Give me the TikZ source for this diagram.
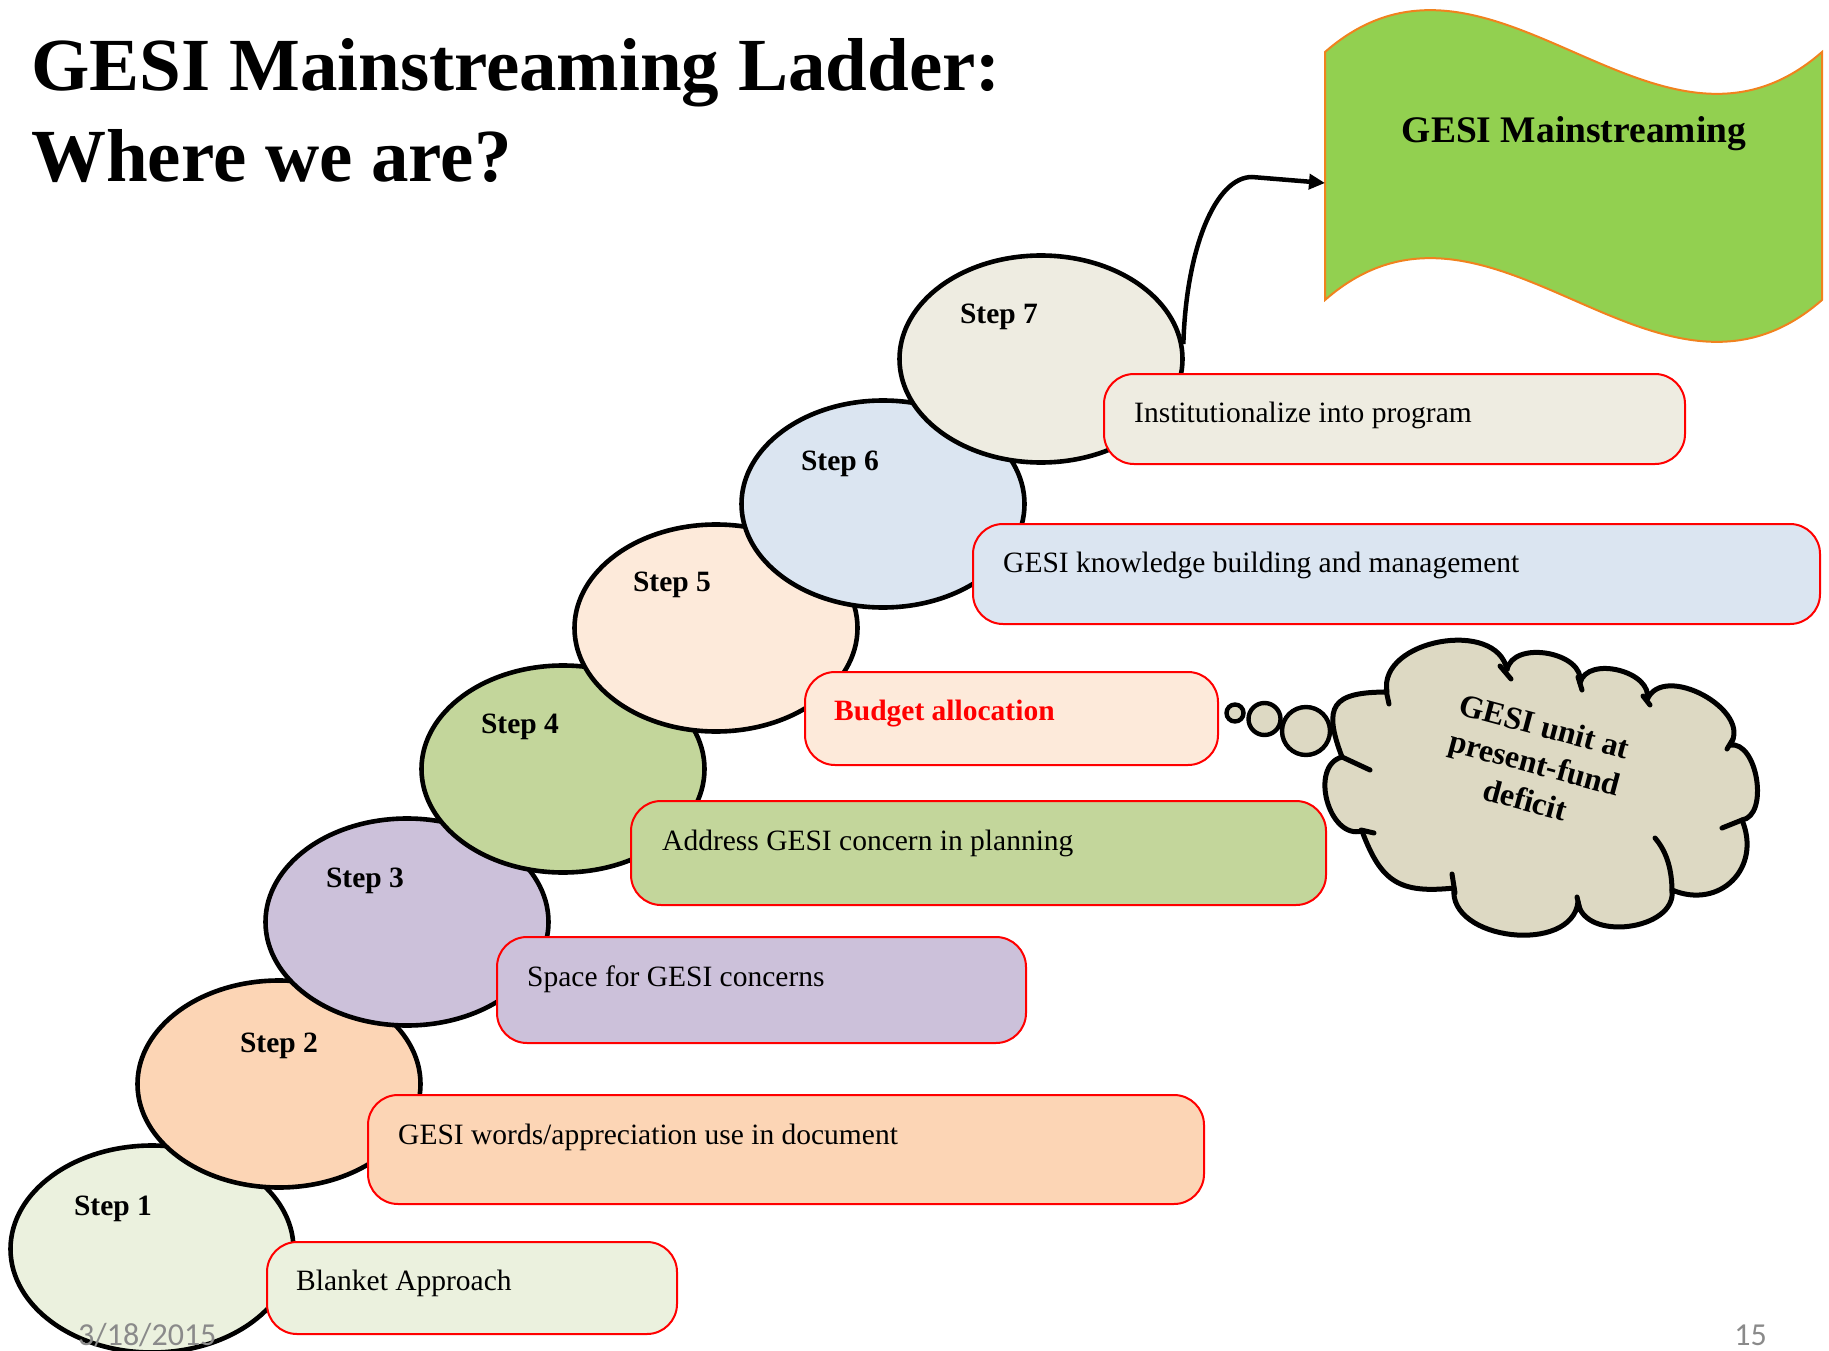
\documentclass[tikz,border=0pt]{standalone}
\usepackage{fontspec}
\setmainfont{Liberation Serif}
\newfontfamily\slidefont{Carlito}
\usetikzlibrary{shapes.geometric,arrows.meta}

\definecolor{fillA}{HTML}{EBF1DE}
\definecolor{fillB}{HTML}{FCD5B5}
\definecolor{fillC}{HTML}{CCC1DA}
\definecolor{fillD}{HTML}{C3D69B}
\definecolor{fillE}{HTML}{FDEADA}
\definecolor{fillF}{HTML}{DBE5F1}
\definecolor{fillG}{HTML}{EEECE1}
\definecolor{cloudfill}{HTML}{DDD9C3}
\definecolor{flaggreen}{HTML}{92D050}
\definecolor{flagedge}{HTML}{F0821E}
\definecolor{slidegray}{HTML}{8A8A8A}
\definecolor{boxred}{HTML}{FF0000}

\begin{document}
\begin{tikzpicture}[x=1pt,y=-1pt,
  stepell/.style={ellipse, draw=black, line width=4.6pt, minimum width=283pt,
    minimum height=207pt, inner sep=0pt},
  stepbox/.style={draw=boxred, line width=2pt, rounded corners=30pt,
    anchor=north west, inner sep=0pt},
  steplabel/.style={font=\fontsize{29.5}{35}\selectfont\bfseries, inner sep=0pt, anchor=base},
  boxtext/.style={font=\fontsize{29.5}{35}\selectfont, inner sep=0pt, anchor=base west},
  titletext/.style={font=\fontsize{75}{91}\selectfont\bfseries, inner sep=0pt, anchor=base west},
  bubble/.style={circle, draw=black, line width=4.4pt, fill=cloudfill, inner sep=0pt},
  cloudline/.style={draw=black, line width=5pt, line join=round, line cap=round},
  slidetext/.style={font=\slidefont\fontsize{32}{38}\selectfont, text=slidegray, inner sep=0pt}
]
\useasboundingbox (0,0) rectangle (1829,1351);
\clip (0,0) rectangle (1829,1351);

% title
\node[titletext] (title1) at (31,91) {GESI Mainstreaming Ladder:};
\node[titletext] (title2) at (31,182) {Where we are?};

% waving flag
\draw[draw=flagedge, line width=2pt, fill=flaggreen]
  (1325,52) .. controls (1491,-93) and (1656,197) .. (1822,52)
  -- (1822,300) .. controls (1656,445) and (1491,155) .. (1325,300) -- cycle;
\node[font=\fontsize{37.5}{45}\selectfont\bfseries, inner sep=0pt, anchor=base]
  (flagtitle) at (1574,143) {GESI Mainstreaming};
\coordinate (flagW) at (1325,183);

% ladder steps, bottom to top
\node[stepell, fill=fillA] (s1) at (152,1249) {};
\node[steplabel] (l1) at (113,1215) {Step 1};
\node[stepbox, fill=fillA, minimum width=410pt, minimum height=92pt] (b1) at (266,1241) {};
\node[boxtext] (t1) at (296,1290) {Blanket Approach};

\node[stepell, fill=fillB] (s2) at (279,1084) {};
\node[steplabel] (l2) at (279,1052) {Step 2};
\node[stepbox, fill=fillB, minimum width=836pt, minimum height=109pt] (b2) at (367,1094) {};
\node[boxtext] (t2) at (398,1144) {GESI words/appreciation use in document};

\node[stepell, fill=fillC] (s3) at (407,922) {};
\node[steplabel] (l3) at (365,887) {Step 3};
\node[stepbox, fill=fillC, minimum width=529pt, minimum height=106pt] (b3) at (496,936) {};
\node[boxtext] (t3) at (527,986) {Space for GESI concerns};

\node[stepell, fill=fillD] (s4) at (563,769) {};
\node[steplabel] (l4) at (520,733) {Step 4};
\node[stepbox, fill=fillD, minimum width=695pt, minimum height=104pt] (b4) at (630,800) {};
\node[boxtext] (t4) at (662,850) {Address GESI concern in planning};

\node[stepell, fill=fillE] (s5) at (716,628) {};
\node[steplabel] (l5) at (672,591) {Step 5};
\node[stepbox, fill=fillE, minimum width=413pt, minimum height=93pt] (b5) at (804,671) {};
\node[boxtext, text=boxred, font=\fontsize{29.5}{35}\selectfont\bfseries] (t5) at (834,720) {Budget allocation};

\node[stepell, fill=fillF] (s6) at (883,504) {};
\node[steplabel] (l6) at (840,470) {Step 6};
\node[stepbox, fill=fillF, minimum width=847pt, minimum height=100pt] (b6) at (972,523) {};
\node[boxtext] (t6) at (1003,572) {GESI knowledge building and management};

\node[stepell, fill=fillG] (s7) at (1041,359) {};
\node[steplabel] (l7) at (999,323) {Step 7};
\draw[line width=4.5pt, -{Triangle[length=16pt,width=15pt]}]
  (s7.6) .. controls (1186,250) and (1215,177) .. (1252,177) -- (flagW);
\node[stepbox, fill=fillG, minimum width=581pt, minimum height=90pt] (b7) at (1103,373) {};
\node[boxtext] (t7) at (1134,422) {Institutionalize into program};

% thought cloud
\node[bubble, minimum size=17pt] (bub1) at (1235,713) {};
\node[bubble, minimum size=32pt] (bub2) at (1264.5,719) {};
\node[bubble, minimum size=48pt] (bub3) at (1306,731) {};
\path[cloudline, fill=cloudfill] (1342,757)
  .. controls (1322.4,705.4) and (1332.4,692.2) .. (1387,692)
  .. controls (1377.4,639.8) and (1497.4,617.8) .. (1507,670)
  .. controls (1512.5,639.2) and (1585.5,652.2) .. (1580,683)
  .. controls (1587.2,654.7) and (1654.2,671.7) .. (1647,700)
  .. controls (1662.6,661.2) and (1754,710.8) .. (1730,745)
  .. controls (1757.4,740.6) and (1769.4,815.6) .. (1742,820)
  .. controls (1762,868) and (1720,910) .. (1672,890)
  .. controls (1677.2,930.4) and (1583.2,942.4) .. (1578,902)
  .. controls (1572,954.7) and (1448,940.7) .. (1454,888)
  .. controls (1399.5,893.7) and (1381.1,882.3) .. (1362,831)
  .. controls (1328.7,840) and (1308.7,766) .. cycle;
% inner strokes of the cloud lobes
\draw[cloudline] (1386,690) -- (1389,704);
\draw[cloudline] (1500,666) -- (1511,679);
\draw[cloudline] (1578,677) -- (1582,690);
\draw[cloudline] (1643,696) -- (1650,705);
\draw[cloudline] (1727,749) -- (1733,739);
\draw[cloudline] (1722,828) -- (1742,820);
\draw[cloudline] (1655,838) .. controls (1667,852) and (1672,870) .. (1672,892);
\draw[cloudline] (1577,897) -- (1580,910);
\draw[cloudline] (1452,874) -- (1455,893);
\draw[cloudline] (1361,830) -- (1374,833);
\draw[cloudline] (1342,757) -- (1370,770);
\node[font=\fontsize{32}{38}\selectfont\bfseries, align=center, rotate=-15, inner sep=0pt]
  (ctext) at (1535,763) {GESI unit at\\present-fund\\deficit};

% slide footer
\node[slidetext, anchor=base west] (date) at (78,1345) {3/18/2015};
\node[slidetext, anchor=base east] (pagenum) at (1767,1345) {15};
\end{tikzpicture}
\end{document}
